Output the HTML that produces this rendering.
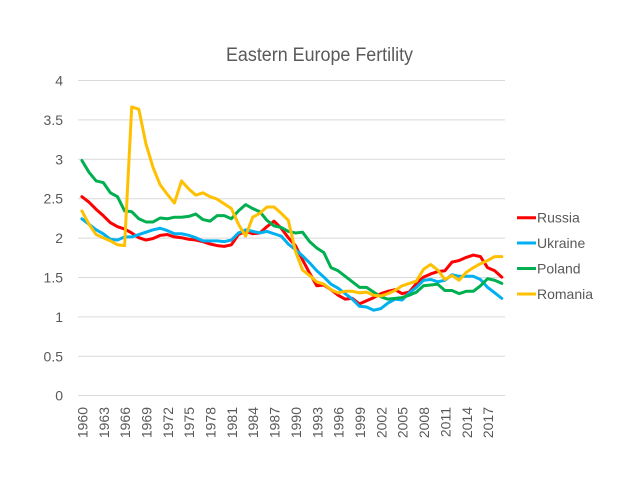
<!DOCTYPE html>
<html><head><meta charset="utf-8"><style>
html,body{margin:0;padding:0;background:#fff;}
svg{display:block;}
text{font-family:"Liberation Sans",Arial,sans-serif;fill:#595959;}
</style></head><body>
<svg width="640" height="480" viewBox="0 0 640 480" xmlns="http://www.w3.org/2000/svg">
<rect width="640" height="480" fill="#fff"/>
<text x="319.5" y="61" font-size="19" text-anchor="middle" textLength="187" lengthAdjust="spacingAndGlyphs">Eastern Europe Fertility</text>
<g stroke="#d9d9d9" stroke-width="1">
<line x1="78" x2="505" y1="80.5" y2="80.5"/>
<line x1="78" x2="505" y1="119.9" y2="119.9"/>
<line x1="78" x2="505" y1="159.3" y2="159.3"/>
<line x1="78" x2="505" y1="198.7" y2="198.7"/>
<line x1="78" x2="505" y1="238.1" y2="238.1"/>
<line x1="78" x2="505" y1="277.5" y2="277.5"/>
<line x1="78" x2="505" y1="316.9" y2="316.9"/>
<line x1="78" x2="505" y1="356.3" y2="356.3"/>
<line x1="78" x2="505" y1="395.5" y2="395.5"/>
</g>
<g font-size="14" text-anchor="end">
<text x="63" y="85.5">4</text>
<text x="63" y="124.9">3.5</text>
<text x="63" y="164.3">3</text>
<text x="63" y="203.7">2.5</text>
<text x="63" y="243.1">2</text>
<text x="63" y="282.5">1.5</text>
<text x="63" y="321.9">1</text>
<text x="63" y="361.3">0.5</text>
<text x="63" y="400.5">0</text>
</g>
<g font-size="14" text-anchor="end">
<text transform="translate(87.4,407) rotate(-90)">1960</text>
<text transform="translate(108.8,407) rotate(-90)">1963</text>
<text transform="translate(130.1,407) rotate(-90)">1966</text>
<text transform="translate(151.5,407) rotate(-90)">1969</text>
<text transform="translate(172.8,407) rotate(-90)">1972</text>
<text transform="translate(194.2,407) rotate(-90)">1975</text>
<text transform="translate(215.5,407) rotate(-90)">1978</text>
<text transform="translate(236.9,407) rotate(-90)">1981</text>
<text transform="translate(258.2,407) rotate(-90)">1984</text>
<text transform="translate(279.6,407) rotate(-90)">1987</text>
<text transform="translate(300.9,407) rotate(-90)">1990</text>
<text transform="translate(322.3,407) rotate(-90)">1993</text>
<text transform="translate(343.6,407) rotate(-90)">1996</text>
<text transform="translate(365.0,407) rotate(-90)">1999</text>
<text transform="translate(386.4,407) rotate(-90)">2002</text>
<text transform="translate(407.7,407) rotate(-90)">2005</text>
<text transform="translate(429.1,407) rotate(-90)">2008</text>
<text transform="translate(450.4,407) rotate(-90)">2011</text>
<text transform="translate(471.8,407) rotate(-90)">2014</text>
<text transform="translate(493.1,407) rotate(-90)">2017</text>
</g>
<g transform="translate(81.9,395.3) scale(7.117,-78.8)" fill="none" stroke-width="3" stroke-linejoin="round" stroke-linecap="round">
<polyline vector-effect="non-scaling-stroke" stroke="#ff0000" points="0,2.52 1,2.45 2,2.36 3,2.28 4,2.19 5,2.14 6,2.11 7,2.06 8,2.00 9,1.97 10,1.99 11,2.03 12,2.04 13,2.01 14,2.00 15,1.98 16,1.97 17,1.95 18,1.92 19,1.90 20,1.89 21,1.91 22,2.04 23,2.08 24,2.05 25,2.06 26,2.14 27,2.21 28,2.12 29,2.00 30,1.90 31,1.72 32,1.55 33,1.39 34,1.40 35,1.34 36,1.27 37,1.22 38,1.23 39,1.16 40,1.20 41,1.24 42,1.29 43,1.32 44,1.34 45,1.29 46,1.31 47,1.42 48,1.50 49,1.54 50,1.57 51,1.58 52,1.69 53,1.71 54,1.75 55,1.78 56,1.76 57,1.62 58,1.58 59,1.50"/>
<polyline vector-effect="non-scaling-stroke" stroke="#00b0f0" points="0,2.24 1,2.17 2,2.10 3,2.05 4,1.98 5,1.97 6,2.01 7,2.01 8,2.04 9,2.07 10,2.10 11,2.12 12,2.09 13,2.05 14,2.05 15,2.03 16,2.00 17,1.96 18,1.96 19,1.96 20,1.95 21,1.97 22,2.06 23,2.10 24,2.08 25,2.06 26,2.08 27,2.05 28,2.02 29,1.92 30,1.85 31,1.77 32,1.68 33,1.58 34,1.50 35,1.41 36,1.36 37,1.29 38,1.22 39,1.13 40,1.12 41,1.08 42,1.10 43,1.17 44,1.22 45,1.21 46,1.30 47,1.37 48,1.46 49,1.47 50,1.44 51,1.46 52,1.53 53,1.51 54,1.51 55,1.51 56,1.47 57,1.37 58,1.30 59,1.23"/>
<polyline vector-effect="non-scaling-stroke" stroke="#00b050" points="0,2.98 1,2.83 2,2.72 3,2.70 4,2.57 5,2.52 6,2.34 7,2.33 8,2.24 9,2.20 10,2.20 11,2.25 12,2.24 13,2.26 14,2.26 15,2.27 16,2.30 17,2.23 18,2.21 19,2.28 20,2.28 21,2.24 22,2.34 23,2.42 24,2.37 25,2.33 26,2.22 27,2.15 28,2.13 29,2.08 30,2.06 31,2.07 32,1.95 33,1.87 34,1.81 35,1.62 36,1.58 37,1.51 38,1.44 39,1.37 40,1.37 41,1.31 42,1.25 43,1.22 44,1.23 45,1.24 46,1.27 47,1.31 48,1.39 49,1.40 50,1.41 51,1.33 52,1.33 53,1.29 54,1.32 55,1.32 56,1.39 57,1.48 58,1.46 59,1.42"/>
<polyline vector-effect="non-scaling-stroke" stroke="#ffc000" points="0,2.34 1,2.17 2,2.04 3,2.00 4,1.96 5,1.91 6,1.90 7,3.66 8,3.63 9,3.19 10,2.89 11,2.67 12,2.55 13,2.44 14,2.72 15,2.62 16,2.54 17,2.57 18,2.52 19,2.49 20,2.43 21,2.37 22,2.17 23,2.02 24,2.26 25,2.31 26,2.39 27,2.39 28,2.31 29,2.22 30,1.83 31,1.59 32,1.52 33,1.44 34,1.41 35,1.34 36,1.30 37,1.32 38,1.32 39,1.30 40,1.31 41,1.27 42,1.26 43,1.29 44,1.33 45,1.39 46,1.42 47,1.45 48,1.60 49,1.66 50,1.59 51,1.47 52,1.52 53,1.46 54,1.56 55,1.62 56,1.67 57,1.71 58,1.76 59,1.76"/>
</g>
<g stroke-width="3">
<line x1="517" x2="536" y1="217.7" y2="217.7" stroke="#ff0000"/>
<line x1="517" x2="536" y1="243" y2="243" stroke="#00b0f0"/>
<line x1="517" x2="536" y1="268.5" y2="268.5" stroke="#00b050"/>
<line x1="517" x2="536" y1="294" y2="294" stroke="#ffc000"/>
</g>
<g font-size="14">
<text x="537" y="222.7">Russia</text>
<text x="537" y="248">Ukraine</text>
<text x="537" y="273.5">Poland</text>
<text x="537" y="299">Romania</text>
</g>
</svg>
</body></html>
